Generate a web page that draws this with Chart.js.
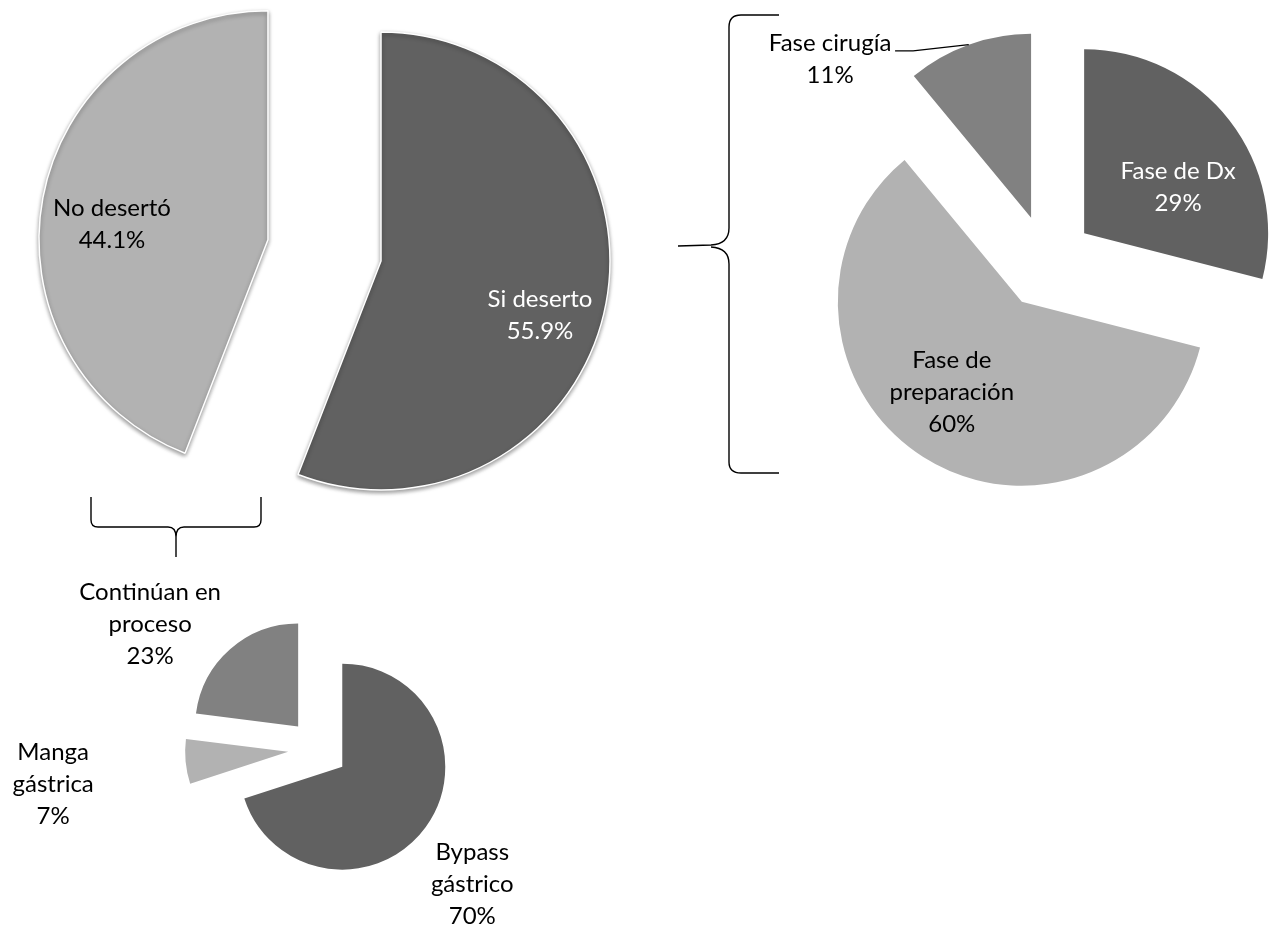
<!DOCTYPE html>
<html>
<head>
<meta charset="utf-8">
<title>Deserción</title>
<script src="https://cdn.jsdelivr.net/npm/chart.js@4.4.1/dist/chart.umd.min.js"></script>
<style>
html, body { margin: 0; padding: 0; background: #fff; overflow: hidden; }
#wrap { position: relative; width: 1270px; height: 927px; }
#wrap canvas { position: absolute; left: 0; top: 0; }
</style>
</head>
<body>
<div id="wrap">
    <canvas id="pieMain" width="1270" height="927"></canvas>
    <canvas id="piePhase" width="1270" height="927"></canvas>
    <canvas id="pieStay" width="1270" height="927"></canvas>
</div>
<script>
const I = (id) => document.getElementById(id)

// ---------------- data ----------------
const mainLabels  = ["Si deserto", "No desertó"]
const mainValues  = [55.9, 44.1]
const phaseLabels = ["Fase de Dx", "Fase de\npreparación", "Fase cirugía"]
const phaseValues = [29, 60, 11]
const stayLabels  = ["Bypass\ngástrico", "Manga\ngástrica", "Continúan en\nproceso"]
const stayValues  = [70, 7, 23]

const DARK = "#616161", LIGHT = "#b2b2b2", MID = "#818181"
const FONT = "24px Lato"
const LINE = 32

// push every slice out along its middle angle
const explode = {
    id: "explode",
    afterDatasetUpdate(chart, args, opts) {
        args.meta.data.forEach((arc, i) => {
            const d = (opts.dist || [])[i] || 0
            const mid = (arc.startAngle + arc.endAngle) / 2
            arc.x += Math.cos(mid) * d
            arc.y += Math.sin(mid) * d
        })
    }
}

// soft drop shadow (only the big pie has it)
const shadow = {
    id: "shadow",
    beforeDatasetsDraw(chart, args, opts) {
        const ctx = chart.ctx
        ctx.save()
        if (opts.on) {
            ctx.shadowColor = "rgba(0,0,0,0.4)"
            ctx.shadowBlur = 4
            ctx.shadowOffsetY = 2
        }
    },
    afterDatasetsDraw(chart) {
        chart.ctx.restore()
    }
}

// "name / value%" labels, placed relative to each slice's apex
const sliceText = {
    id: "sliceText",
    afterDraw(chart, args, opts) {
        const ctx = chart.ctx
        const arcs = chart.getDatasetMeta(0).data
        const vals = chart.data.datasets[0].data
        ctx.save()
        ctx.font = FONT
        ctx.textAlign = "center"
        ctx.textBaseline = "alphabetic"
        arcs.forEach((arc, i) => {
            const p = opts.at[i]
            const lines = chart.data.labels[i].split("\n").concat(vals[i].toFixed(opts.digits) + "%")
            const x = arc.x + p[0]
            const y0 = arc.y + p[1] - (lines.length - 1) * LINE / 2
            ctx.fillStyle = opts.colors[i]
            lines.forEach((t, k) => ctx.fillText(t, x, y0 + k * LINE + 8.5))

            if (opts.leader && opts.leader.index === i) {
                const mid = (arc.startAngle + arc.endAngle) / 2
                const L = opts.leader
                ctx.strokeStyle = "#000"
                ctx.lineWidth = 1.3
                ctx.beginPath()
                ctx.moveTo(arc.x + p[0] + L.from[0], arc.y + p[1] + L.from[1])
                ctx.lineTo(arc.x + p[0] + L.elbow[0], arc.y + p[1] + L.elbow[1])
                ctx.lineTo(arc.x + Math.cos(mid) * arc.outerRadius, arc.y + Math.sin(mid) * arc.outerRadius)
                ctx.stroke()
            }
        })
        ctx.restore()
    }
}

// the two curly brackets joining the pies
const braces = {
    id: "braces",
    afterDraw(chart) {
        const ctx = chart.ctx
        ctx.save()
        ctx.strokeStyle = "#000"
        ctx.lineWidth = 1.4
        ctx.stroke(new Path2D(
            "M91,497 L91,520 Q91,527 98,527 L168,527 Q176,527 176,537 L176,557 " +
            "M176,537 Q176,527 184,527 L254,527 Q261,527 261,520 L261,497"))
        ctx.stroke(new Path2D(
            "M779,15 L741,15 Q729,15 729,27 L729,228 Q729,244 711,245 L678,246 " +
            "M711,247 Q729,248 729,264 L729,462 Q729,473 741,473 L779,473"))
        ctx.restore()
    }
}

const makePie = (id, labels, values, colors, cfg) => new Chart(I(id).getContext("2d"), {
    type: "pie",
    data: {
        labels: labels,
        datasets: [{
            data: values,
            backgroundColor: colors,
            borderColor: "#fff",
            borderWidth: cfg.border || 0,
            radius: cfg.radius
        }]
    },
    options: {
        responsive: false,
        animation: false,
        events: [],
        layout: { padding: cfg.pad },
        plugins: {
            legend: { display: false },
            tooltip: { enabled: false },
            explode: { dist: cfg.dist },
            shadow: { on: !!cfg.border },
            sliceText: { at: cfg.at, colors: cfg.text, digits: cfg.digits, leader: cfg.leader }
        }
    },
    plugins: cfg.extra ? [explode, shadow, sliceText, cfg.extra] : [explode, shadow, sliceText]
})

const build = () => {
    makePie("pieMain", mainLabels, mainValues, [DARK, LIGHT], {
        radius: 229,
        pad: { left: 0, right: 508, top: 0, bottom: 405 },
        dist: [0, 115],
        border: 1.5,
        at: [[159, 53], [-156, -16]],
        text: ["#fff", "#000"],
        digits: 1,
        extra: braces
    })

    makePie("piePhase", phaseLabels, phaseValues, [DARK, LIGHT, MID], {
        radius: 184,
        pad: { left: 824, right: 0, top: 0, bottom: 403 },
        dist: [47, 47, 47],
        at: [[94, -47], [-70, 90], [-201, -159]],
        text: ["#fff", "#000", "#000"],
        digits: 0,
        leader: { index: 2, from: [65, -8], elbow: [83, -8] }
    })

    makePie("pieStay", stayLabels, stayValues, [DARK, LIGHT, MID], {
        radius: 103,
        pad: { left: 0, right: 634, top: 571, bottom: 0 },
        dist: [30, 30, 30],
        at: [[130, 117], [-235, 32], [-148, -103]],
        text: ["#000", "#000", "#000"],
        digits: 0
    })
}

document.fonts.load(FONT).then(build, build)
</script>
</body>
</html>
